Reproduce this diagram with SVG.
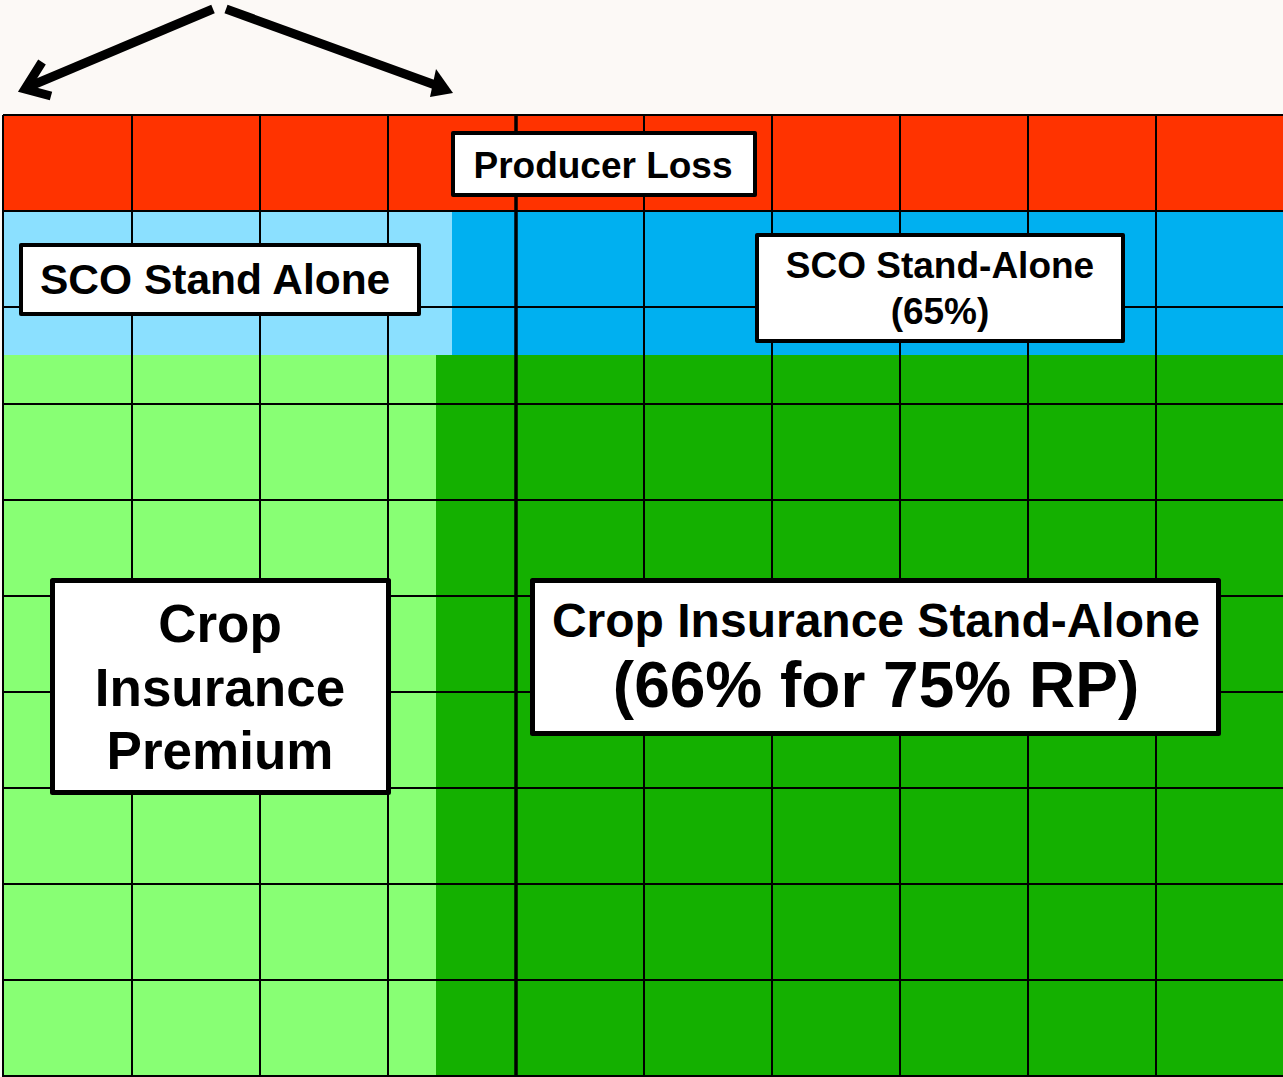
<svg xmlns="http://www.w3.org/2000/svg" width="1283" height="1077" viewBox="0 0 1283 1077">
<style>
.grid line{stroke:#000;stroke-width:2}
.box{fill:#fff;stroke:#000;stroke-linejoin:round}
.t{font-family:"Liberation Sans",Arial,sans-serif;font-weight:bold;fill:#000}
.arrow{stroke:#000;stroke-width:9;fill:none}
.head{fill:#000}
</style>
<rect x="0" y="0" width="1283" height="1077" fill="#fcf9f6"/>
<g id="bands">
<rect x="3" y="115" width="1280" height="96" fill="#ff3300"/>
<rect x="3" y="211" width="449" height="144" fill="#8be0ff"/>
<rect x="452" y="211" width="831" height="144" fill="#00b0f0"/>
<rect x="3" y="355" width="433" height="722" fill="#88ff74"/>
<rect x="436" y="355" width="847" height="722" fill="#14b000"/>
</g>
<g id="grid" class="grid">
<line x1="3" y1="115" x2="3" y2="1077"/>
<line x1="132" y1="115" x2="132" y2="1077"/>
<line x1="260" y1="115" x2="260" y2="1077"/>
<line x1="388" y1="115" x2="388" y2="1077"/>
<line x1="516" y1="115" x2="516" y2="1077" style="stroke-width:3.5"/>
<line x1="644" y1="115" x2="644" y2="1077"/>
<line x1="772" y1="115" x2="772" y2="1077"/>
<line x1="900" y1="115" x2="900" y2="1077"/>
<line x1="1028" y1="115" x2="1028" y2="1077"/>
<line x1="1156" y1="115" x2="1156" y2="1077"/>
<line x1="3" y1="115" x2="1283" y2="115"/>
<line x1="3" y1="211" x2="1283" y2="211"/>
<line x1="3" y1="307" x2="1283" y2="307"/>
<line x1="3" y1="404" x2="1283" y2="404"/>
<line x1="3" y1="500" x2="1283" y2="500"/>
<line x1="3" y1="596" x2="1283" y2="596"/>
<line x1="3" y1="692" x2="1283" y2="692"/>
<line x1="3" y1="788" x2="1283" y2="788"/>
<line x1="3" y1="884" x2="1283" y2="884"/>
<line x1="3" y1="980" x2="1283" y2="980"/>
<line x1="3" y1="1076" x2="1283" y2="1076"/>
</g>
<g id="connectors">
<line class="arrow" x1="213" y1="9" x2="28" y2="87"/>
<polyline class="arrow" points="42,62 25,89 51,96" stroke-linejoin="miter"/>
<line class="arrow" x1="226" y1="9" x2="438" y2="86"/>
<polygon class="head" points="436,69 453,93 430,97"/>
</g>
<g id="producer-loss">
<rect class="box" x="453" y="133" width="302" height="62" stroke-width="4"/>
<text class="t" x="603" y="178" font-size="37" text-anchor="middle">Producer Loss</text>
</g>
<g id="sco-stand-alone">
<rect class="box" x="21" y="245" width="398" height="69" stroke-width="4"/>
<text class="t" x="40" y="294" font-size="42.5">SCO Stand Alone</text>
</g>
<g id="sco-stand-alone-65">
<rect class="box" x="757" y="235" width="366" height="106" stroke-width="4"/>
<text class="t" x="940" y="278" font-size="37" text-anchor="middle">SCO Stand-Alone</text>
<text class="t" x="940" y="324" font-size="37" text-anchor="middle">(65%)</text>
</g>
<g id="crop-insurance-premium">
<rect class="box" x="52.5" y="580.5" width="336" height="212" stroke-width="5"/>
<text class="t" x="220" y="642" font-size="53" text-anchor="middle">Crop</text>
<text class="t" x="220" y="706" font-size="53" text-anchor="middle">Insurance</text>
<text class="t" x="220" y="769" font-size="53" text-anchor="middle">Premium</text>
</g>
<g id="crop-insurance-stand-alone">
<rect class="box" x="532.5" y="580.5" width="686" height="153" stroke-width="5"/>
<text class="t" x="876" y="637" font-size="48" text-anchor="middle">Crop Insurance Stand-Alone</text>
<text class="t" x="876" y="707" font-size="64" text-anchor="middle">(66% for 75% RP)</text>
</g>
</svg>
